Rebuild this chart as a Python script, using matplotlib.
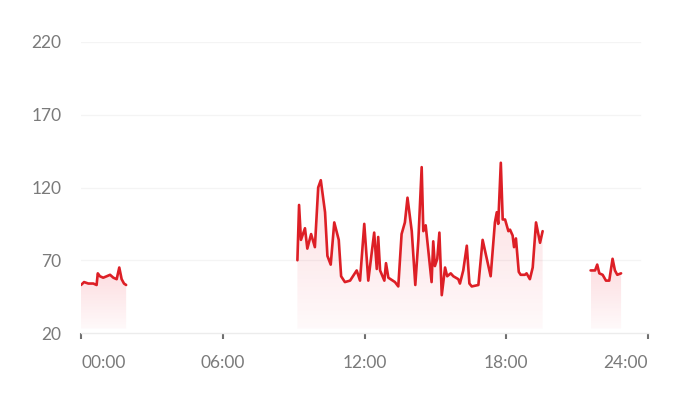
import numpy as np
import matplotlib
matplotlib.use("Agg")
import matplotlib.pyplot as plt
from matplotlib.patches import PathPatch
from matplotlib.path import Path

plt.rcParams['font.family'] = ['Lato', 'DejaVu Sans']

# Heart-rate data (hours, bpm), three recorded segments
seg1_t = [0.0, 0.13, 0.31, 0.52, 0.66, 0.71, 0.80, 0.94, 1.09, 1.23, 1.37, 1.51, 1.62, 1.72, 1.82, 1.91]
seg1_v = [53, 55, 54, 54, 53, 61, 59, 58, 59, 60, 58, 57, 65, 57, 54, 53]

seg2_t = [9.16, 9.23, 9.31, 9.48, 9.58, 9.74, 9.90, 10.04, 10.15, 10.33, 10.43, 10.57, 10.72, 10.91,
          11.01, 11.17, 11.39, 11.67, 11.81, 11.99, 12.16, 12.41, 12.52, 12.58, 12.66, 12.84, 12.91,
          13.01, 13.29, 13.43, 13.57, 13.71, 13.82, 14.00, 14.15, 14.28, 14.42, 14.49, 14.59, 14.84,
          14.91, 14.98, 15.08, 15.17, 15.27, 15.41, 15.50, 15.65, 15.76, 15.97, 16.04, 16.18, 16.33,
          16.44, 16.54, 16.82, 17.00, 17.34, 17.52, 17.60, 17.66, 17.77, 17.85, 17.95, 18.09, 18.16,
          18.27, 18.33, 18.41, 18.53, 18.61, 18.79, 18.86, 19.00, 19.12, 19.26, 19.43, 19.54]
seg2_v = [70, 108, 84, 92, 78, 88, 79, 120, 125, 103, 73, 67, 96, 84,
          59, 55, 56, 63, 56, 95, 56, 89, 64, 86, 63, 56, 68,
          58, 55, 52, 88, 96, 113, 90, 53, 84, 134, 90, 94, 55,
          83, 66, 71, 89, 46, 65, 59, 61, 59, 57, 54, 63, 80,
          54, 52, 53, 84, 59, 96, 103, 95, 137, 98, 98, 90, 91,
          87, 79, 85, 62, 60, 60, 61, 57, 65, 96, 82, 90]

seg3_t = [21.57, 21.76, 21.85, 21.94, 22.08, 22.22, 22.36, 22.50, 22.60, 22.70, 22.86]
seg3_v = [63, 63, 67, 61, 60, 56, 56, 71, 63, 60, 61]

segments = [(seg1_t, seg1_v), (seg2_t, seg2_v), (seg3_t, seg3_v)]

x_ticks = [0, 6, 12, 18, 24]
x_labels = ["00:00", "06:00", "12:00", "18:00", "24:00"]
y_ticks = [20, 70, 120, 170, 220]

LINE = "#dd1f26"
fig = plt.figure(figsize=(6.82, 4.0), dpi=100)
ax = fig.add_axes([81/682, 1-333/400, (648-81)/682, (333-42)/400])
ax.set_xlim(0, 24)
ax.set_ylim(20, 220)

fill_bottom = 23
grad = np.linspace(0, 1, 256).reshape(-1, 1)
rgba = np.zeros((256, 1, 4))
rgba[..., 0] = 0.95
rgba[..., 1] = 0.25
rgba[..., 2] = 0.32
rgba[..., 3] = (0.03 + 0.16 * grad[:, 0:1])

for t, v in segments:
    t = np.array(t); v = np.array(v)
    verts = [(t[0], fill_bottom)] + list(zip(t, v)) + [(t[-1], fill_bottom), (t[0], fill_bottom)]
    path = Path(verts, closed=True)
    patch = PathPatch(path, facecolor="none", edgecolor="none")
    ax.add_patch(patch)
    im = ax.imshow(rgba, extent=[t.min(), t.max(), fill_bottom, v.max()], origin="lower",
                   aspect="auto", zorder=1, interpolation="bilinear")
    im.set_clip_path(patch)
    ax.plot(t, v, color=LINE, lw=1.9, solid_joinstyle="round", solid_capstyle="round", zorder=3)

ax.set_xlim(0, 24)
ax.set_ylim(20, 220)

for y in y_ticks[1:]:
    ax.axhline(y, xmin=0, xmax=(640-81)/(648-81), color="#f4f4f4", lw=0.9, zorder=0)

for s in ["top", "right", "left"]:
    ax.spines[s].set_visible(False)
ax.spines["bottom"].set_color("#ececec")
ax.spines["bottom"].set_linewidth(1.0)

ax.set_yticks(y_ticks)
ax.set_yticklabels([str(y) for y in y_ticks])
ax.tick_params(axis="y", length=0, pad=14, labelsize=12.5, labelcolor="#7a7a7a")
ax.set_xticks(x_ticks)
ax.set_xticklabels(x_labels)
ax.tick_params(axis="x", length=4, width=1.5, color="#707070", direction="out", pad=12,
               labelsize=12.5, labelcolor="#7a7a7a")
labels = ax.get_xticklabels()
labels[0].set_ha("left")
labels[-1].set_ha("right")

fig.savefig("out.png", dpi=100, facecolor="white")
